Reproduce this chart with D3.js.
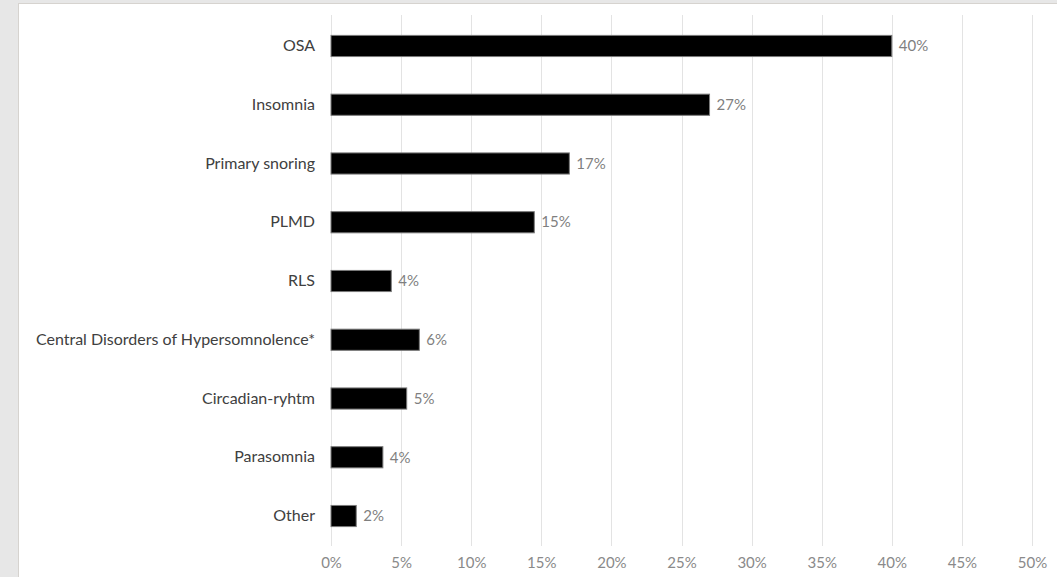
<!DOCTYPE html>
<html>
<head>
<meta charset="utf-8">
<script src="https://cdn.jsdelivr.net/npm/d3@7"></script>
<style>
  html, body { margin: 0; padding: 0; background: #e7e7e7; }
  svg { display: block; }
</style>
</head>
<body>
<svg id="chart" width="1057" height="577"></svg>
<script>
const categories = ["OSA", "Insomnia", "Primary snoring", "PLMD", "RLS",
  "Central Disorders of Hypersomnolence*", "Circadian-ryhtm", "Parasomnia", "Other"];
const values = [40, 27, 17, 14.5, 4.3, 6.3, 5.4, 3.7, 1.8];
const valueLabels = ["40%", "27%", "17%", "15%", "4%", "6%", "5%", "4%", "2%"];
const ticks = [0, 5, 10, 15, 20, 25, 30, 35, 40, 45, 50];
const tickLabels = ["0%", "5%", "10%", "15%", "20%", "25%", "30%", "35%", "40%", "45%", "50%"];

const svg = d3.select("#chart");
const font = "Lato, 'Open Sans', sans-serif";

// panel
svg.append("rect").attr("x", 18.5).attr("y", 3.5).attr("width", 1060).attr("height", 600)
  .attr("fill", "#fff").attr("stroke", "#d6d3cf").attr("stroke-width", 1);

const x = d3.scaleLinear().domain([0, 50]).range([331, 1032]);
const y = d3.scaleBand().domain(categories).range([16.6, 545.4]).paddingInner(0.64).paddingOuter(0.32);

// gridlines
svg.append("g").selectAll("line").data(ticks).join("line")
  .attr("x1", d => Math.round(x(d)) + 0.5).attr("x2", d => Math.round(x(d)) + 0.5)
  .attr("y1", 15).attr("y2", 546)
  .attr("stroke", "#e3e3e3").attr("stroke-width", 1);

// x axis tick labels
const xAxis = d3.axisBottom(x).tickValues(ticks).tickSize(0)
  .tickFormat((d, i) => tickLabels[i]);
const gx = svg.append("g").attr("transform", "translate(0,554)").call(xAxis);
gx.select(".domain").remove();
gx.selectAll("text").attr("font-family", font).attr("font-size", 15)
  .attr("fill", "#8a8a8a");

// y axis labels
const yAxis = d3.axisLeft(y).tickSize(0).tickPadding(16);
const gy = svg.append("g").attr("transform", "translate(331,0)").call(yAxis);
gy.select(".domain").remove();
gy.selectAll("text").attr("font-family", font).attr("font-size", 16)
  .attr("fill", "#404040");

// bars
svg.append("g").selectAll("rect").data(categories).join("rect")
  .attr("x", x(0))
  .attr("y", d => y(d))
  .attr("width", (d, i) => x(values[i]) - x(0))
  .attr("height", y.bandwidth())
  .attr("fill", "#000")
  .attr("stroke", "#7a7a7a").attr("stroke-width", 1);

// value labels
svg.append("g").selectAll("text").data(categories).join("text")
  .attr("x", (d, i) => x(values[i]) + 7)
  .attr("y", d => y(d) + y.bandwidth() / 2)
  .attr("dy", "0.35em")
  .attr("font-family", font).attr("font-size", 15)
  .attr("fill", "#7f7f7f")
  .text((d, i) => valueLabels[i]);
</script>
</body>
</html>
